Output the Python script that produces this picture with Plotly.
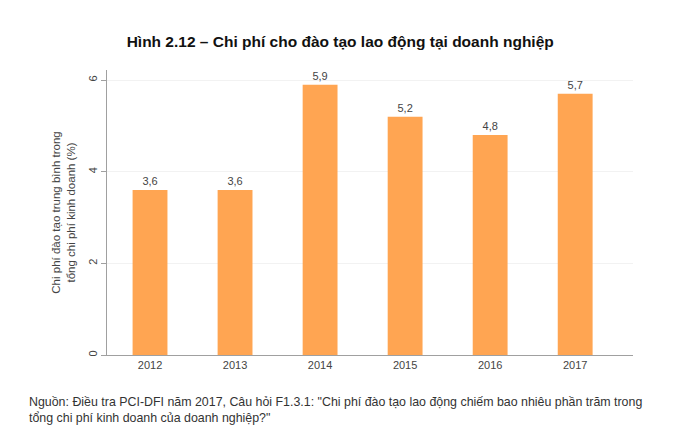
import plotly.graph_objects as go

years = ["2012", "2013", "2014", "2015", "2016", "2017"]
values = [3.6, 3.6, 5.9, 5.2, 4.8, 5.7]
labels = ["3,6", "3,6", "5,9", "5,2", "4,8", "5,7"]
y_ticks = [0, 2, 4, 6]

title = "Hình 2.12 – Chi phí cho đào tạo lao động tại doanh nghiệp"
y_title = "Chi phí đào tạo trung bình trong<br>tổng chi phí kinh doanh (%)"
source = ("Nguồn: Điều tra PCI-DFI năm 2017, Câu hỏi F1.3.1: \"Chi phí đào tạo lao động chiếm bao nhiêu phần trăm trong"
          "<br>tổng chi phí kinh doanh của doanh nghiệp?\"")

font_family = "Liberation Sans, Arial, sans-serif"

fig = go.Figure(go.Bar(
    x=list(range(len(years))),
    y=values,
    text=labels,
    textposition="outside",
    textfont=dict(size=11, color="#444444"),
    marker=dict(color="#FFA552", line=dict(width=0)),
    width=0.41,
    cliponaxis=False,
    hoverinfo="skip",
))

fig.update_layout(
    width=700, height=432,
    margin=dict(l=107, r=67, t=70, b=77),
    paper_bgcolor="white", plot_bgcolor="white",
    font=dict(family=font_family, color="#444444"),
    showlegend=False,
    title=dict(text="<b>" + title + "</b>", x=0.486, xanchor="center", y=0.903, yanchor="middle",
               font=dict(size=15.5, color="#111111")),
    xaxis=dict(
        range=[-0.506, 5.68], automargin=False,
        tickmode="array", tickvals=list(range(len(years))), ticktext=years,
        showline=True, linecolor="#a0a0a0", linewidth=1,
        ticks="", showgrid=False, zeroline=False,
        tickfont=dict(size=11, color="#444444"),
    ),
    yaxis=dict(
        range=[0, 6.22], automargin=False,
        tickmode="array", tickvals=y_ticks, ticktext=[str(v) for v in y_ticks],
        tickangle=-90,
        showline=True, linecolor="#a0a0a0", linewidth=1,
        ticks="outside", ticklen=5, tickcolor="#a0a0a0",
        showgrid=True, gridcolor="#f2f2f2", gridwidth=1, zeroline=False,
        tickfont=dict(size=11, color="#444444"),
        title=dict(text=y_title, font=dict(size=11.5, color="#444444"), standoff=8),
    ),
    annotations=[dict(
        text=source, xref="paper", yref="paper", x=-0.152, y=-0.135,
        xanchor="left", yanchor="top", align="left", showarrow=False,
        font=dict(size=12.4, color="#333333"),
    )],
)

fig.write_html("out.html", config={"displayModeBar": False},
               post_script="document.body.style.margin='0';")
